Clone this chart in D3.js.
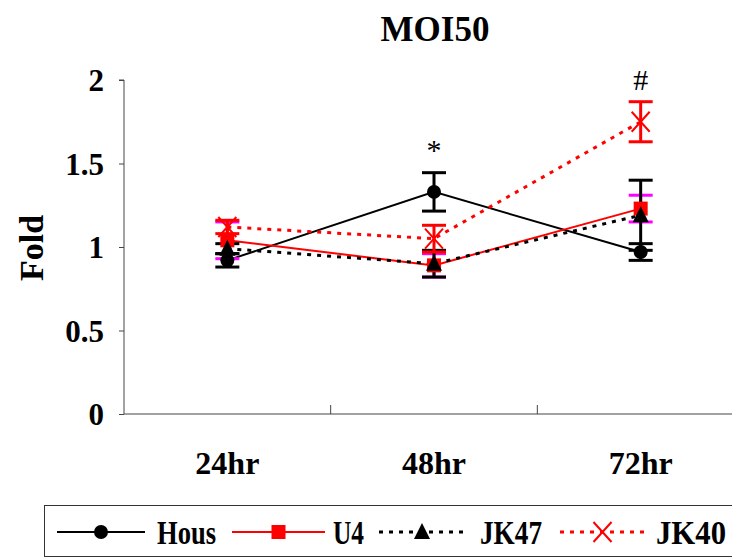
<!DOCTYPE html>
<html>
<head>
<meta charset="utf-8">
<script src="https://cdn.jsdelivr.net/npm/d3@7/dist/d3.min.js"></script>
<style>
  html, body { margin: 0; padding: 0; background: #fff; }
  svg { display: block; }
</style>
</head>
<body>
<script>
// Time points and tick values
const categories = ["24hr", "48hr", "72hr"];
const yTicks = [0, 0.5, 1, 1.5, 2];

// Fold values and error (±) per series
const housValues = [0.92, 1.33, 0.97];
const housErrors = [0.04, 0.115, 0.05];
const u4Values = [1.04, 0.89, 1.23];
const u4Errors = [0.11, 0.07, 0.08];
const jk47Values = [0.99, 0.90, 1.19];
const jk47Errors = [0.03, 0.08, 0.21];
const jk40Values = [1.12, 1.05, 1.75];
const jk40Errors = [0.04, 0.08, 0.12];

// Significance marks above points
const marks = [{ cat: "48hr", value: 1.45, text: "*" }, { cat: "72hr", value: 1.87, text: "#" }];

const SERIF = "'Liberation Serif', 'Times New Roman', 'DejaVu Serif', serif";
const W = 732, H = 558;
const svg = d3.select("body").append("svg").attr("width", W).attr("height", H)
  .style("font-family", SERIF);

const x = d3.scaleBand().domain(categories).range([124, 744]);
const y = d3.scaleLinear().domain([0, 2]).range([414, 80]);
const cx = c => x(c) + x.bandwidth() / 2;

const series = [
  { name: "Hous", values: housValues, errors: housErrors, color: "#000", err: "#000", dash: null, marker: "circle" },
  { name: "U4", values: u4Values, errors: u4Errors, color: "#f00", err: "#f0f", dash: null, marker: "square" },
  { name: "JK47", values: jk47Values, errors: jk47Errors, color: "#000", err: "#000", dash: "4,6", marker: "triangle" },
  { name: "JK40", values: jk40Values, errors: jk40Errors, color: "#f00", err: "#f00", dash: "4,6", marker: "x" }
];

// Title
svg.append("text").attr("x", 435).attr("y", 41).attr("text-anchor", "middle")
  .style("font-family", SERIF).attr("font-size", 35).attr("font-weight", "bold").text("MOI50");

// Y axis
const yAxis = svg.append("g").attr("transform", "translate(124,0)")
  .call(d3.axisLeft(y).tickValues(yTicks).tickSize(5).tickFormat(d3.format("")));
yAxis.select(".domain").attr("stroke", "#444").attr("d", `M-5,${y(2)}H0V${y(0)}`);
yAxis.selectAll(".tick line").attr("stroke", "#444");
yAxis.selectAll(".tick text").attr("x", -20).attr("dy", "0.34em")
  .style("font-family", SERIF).attr("font-size", 31).attr("font-weight", "bold").attr("fill", "#000");

// X axis: line with ticks at category boundaries
const xg = svg.append("g");
xg.append("line").attr("x1", 124).attr("x2", W).attr("y1", y(0)).attr("y2", y(0)).attr("stroke", "#444");
xg.selectAll("line.b").data(categories.slice(1)).join("line").attr("class", "b")
  .attr("x1", d => x(d)).attr("x2", d => x(d)).attr("y1", y(0)).attr("y2", y(0) - 9).attr("stroke", "#444");
xg.selectAll("text").data(categories).join("text")
  .attr("x", d => cx(d)).attr("y", 474).attr("text-anchor", "middle")
  .style("font-family", SERIF).attr("font-size", 32).attr("font-weight", "bold").text(d => d);

// Y axis title
svg.append("text").attr("transform", "translate(43,248) rotate(-90)").attr("text-anchor", "middle")
  .style("font-family", SERIF).attr("font-size", 34).attr("font-weight", "bold").text("Fold");

function drawMarker(g, type, px, py, color) {
  if (type === "circle") g.append("circle").attr("cx", px).attr("cy", py).attr("r", 7).attr("fill", color);
  else if (type === "square") g.append("rect").attr("x", px - 7).attr("y", py - 7).attr("width", 14).attr("height", 14).attr("fill", color);
  else if (type === "triangle") g.append("path").attr("d", `M${px},${py - 9}L${px + 8},${py + 7}L${px - 8},${py + 7}Z`).attr("fill", color);
  else if (type === "x") {
    g.append("path").attr("d", `M${px - 9},${py - 10}L${px + 9},${py + 10}M${px + 9},${py - 10}L${px - 9},${py + 10}`)
      .attr("stroke", color).attr("stroke-width", 2).attr("fill", "none");
  }
}

const line = d3.line().x((d, i) => cx(categories[i])).y(d => y(d));
const plot = svg.append("g");

// Lines
series.forEach(s => {
  plot.append("path").datum(s.values).attr("d", line).attr("fill", "none")
    .attr("stroke", s.color).attr("stroke-width", s.dash ? 3 : 2)
    .attr("stroke-dasharray", s.dash);
});

// Error bars
series.forEach(s => {
  s.values.forEach((v, i) => {
    const px = cx(categories[i]);
    const top = y(v + s.errors[i]), bot = y(v - s.errors[i]);
    plot.append("line").attr("x1", px).attr("x2", px).attr("y1", top).attr("y2", bot)
      .attr("stroke", s.err).attr("stroke-width", 3);
    [top, bot].forEach(yy => plot.append("line").attr("x1", px - 12).attr("x2", px + 12)
      .attr("y1", yy).attr("y2", yy).attr("stroke", s.err).attr("stroke-width", 3));
  });
});

// Markers
series.forEach(s => {
  s.values.forEach((v, i) => drawMarker(plot, s.marker, cx(categories[i]), y(v), s.color));
});

// Significance marks
svg.selectAll("text.mark").data(marks).join("text").attr("class", "mark")
  .attr("x", d => cx(d.cat)).attr("y", d => y(d.value) - 12).attr("text-anchor", "middle")
  .style("font-family", SERIF).attr("font-size", 30).text(d => d.text);

// Legend
const lg = svg.append("g");
lg.append("rect").attr("x", 44.5).attr("y", 505.5).attr("width", 700).attr("height", 51)
  .attr("fill", "none").attr("stroke", "#333");
const legendPos = [
  { x0: 57, x1: 145, tx: 157, tw: 59 },
  { x0: 232, x1: 325, tx: 333, tw: 31 },
  { x0: 379, x1: 465, tx: 480, tw: 62 },
  { x0: 560, x1: 645, tx: 656, tw: 70 }
];
series.forEach((s, i) => {
  const p = legendPos[i], ly = 532;
  lg.append("line").attr("x1", p.x0).attr("x2", p.x1).attr("y1", ly).attr("y2", ly)
    .attr("stroke", s.color).attr("stroke-width", s.dash ? 3 : 2).attr("stroke-dasharray", s.dash);
  drawMarker(lg, s.marker, (p.x0 + p.x1) / 2, ly, s.color);
  lg.append("text").attr("x", p.tx).attr("y", ly + 12)
    .style("font-family", SERIF).attr("font-size", 34).attr("font-weight", "bold")
    .attr("textLength", p.tw).attr("lengthAdjust", "spacingAndGlyphs").text(s.name);
});
</script>
</body>
</html>
